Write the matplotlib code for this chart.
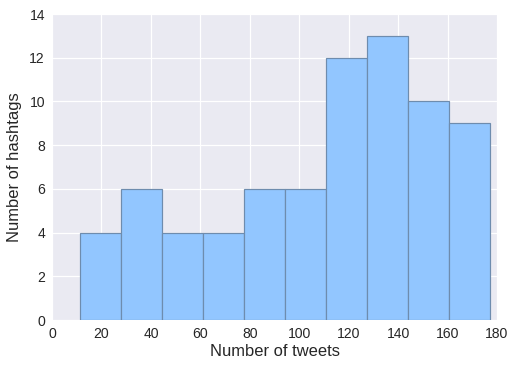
import matplotlib
matplotlib.use("Agg")
import matplotlib.pyplot as plt
import numpy as np

counts = [4, 6, 4, 4, 6, 6, 12, 13, 10, 9]
data_min = 11.3
data_max = 177.2
xlabel = "Number of tweets"
ylabel = "Number of hashtags"

edges = np.linspace(data_min, data_max, len(counts) + 1)
centers = (edges[:-1] + edges[1:]) / 2

plt.rcParams['font.family'] = ['Liberation Sans', 'DejaVu Sans']
fig = plt.figure(figsize=(517/72, 369/72), dpi=72)
ax = fig.add_axes([52/517, 1 - 320/369, 445/517, 306/369])
ax.set_facecolor('#EAEAF2')
ax.grid(True, color='white', linewidth=1.2)
ax.set_axisbelow(True)
for s in ax.spines.values():
    s.set_visible(False)
ax.hist(centers, bins=edges, weights=counts, facecolor='#92C6FF',
        edgecolor='#6E8CAE', linewidth=1.2)
ax.set_xlim(0, 180)
ax.set_ylim(0, 14)
ax.set_xticks(np.arange(0, 181, 20))
ax.set_yticks(np.arange(0, 15, 2))
ax.tick_params(length=0, labelsize=14, colors='#262626', pad=7)
ax.set_xlabel(xlabel, fontsize=16.5, color='#262626', labelpad=3)
ax.set_ylabel(ylabel, fontsize=16.5, color='#262626', labelpad=7)
fig.savefig("out.png", dpi=72)
